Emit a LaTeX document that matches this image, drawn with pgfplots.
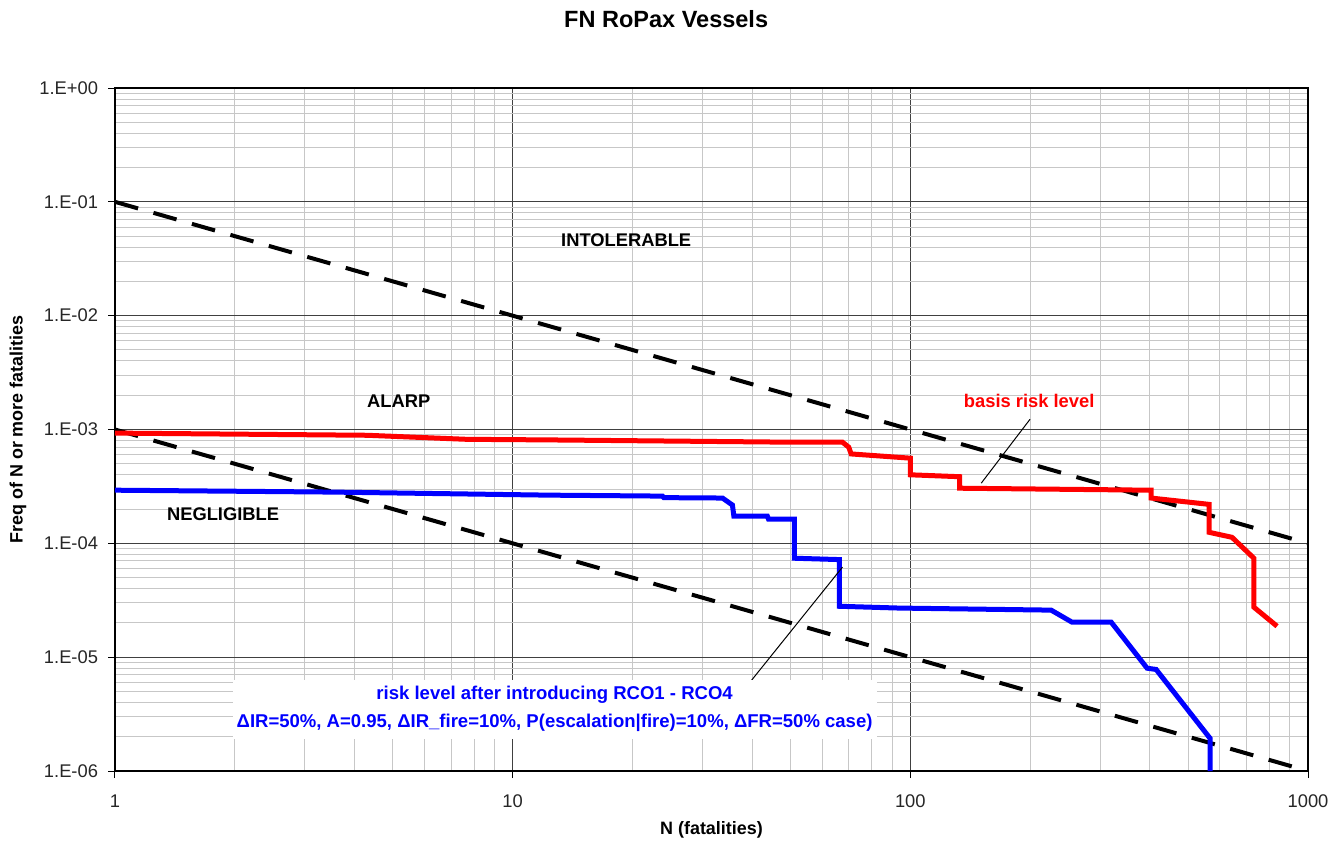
\documentclass[border=0pt]{standalone}
\usepackage{fontspec}
\setmainfont{Liberation Sans}
\usepackage{pgfplots}
\pgfplotsset{compat=1.18}

\begin{document}
\begin{tikzpicture}
\path[use as bounding box] (-57.5bp,-37bp) rectangle (608.5bp,385.5bp);
\begin{axis}[
  xmode=log, ymode=log,
  scale only axis,
  width=596.5bp, height=341.5bp,
  xmin=1, xmax=1000, ymin=1e-6, ymax=1,
  xtick={1,10,100,1000}, xticklabels={1,10,100,1000},
  ytick={1e-6,1e-5,1e-4,1e-3,1e-2,1e-1,1},
  yticklabels={1.E-06,1.E-05,1.E-04,1.E-03,1.E-02,1.E-01,1.E+00},
  tick pos=left, tick align=outside,
  major tick length=3.5bp, minor tick length=0pt,
  grid=both,
  major grid style={black!75, line width=0.5bp},
  minor grid style={black!22, line width=0.5bp},
  axis line style={black, line width=0.6bp},
  tick style={black, line width=0.5bp},
  ticklabel style={font=\fontsize{9.2}{11}\selectfont, text=black!85},
  xticklabel style={yshift=-5bp},
  yticklabel style={xshift=-1.5bp},
  title={FN RoPax Vessels},
  title style={font=\fontsize{11.8}{14}\selectfont\bfseries, at={(axis description cs:0.462,1.0835)}, anchor=center},
  xlabel={N (fatalities)},
  xlabel style={font=\fontsize{9}{11}\selectfont\bfseries, at={(axis description cs:0.5,-0.0864)}, anchor=center},
  ylabel={Freq of N or more fatalities},
  ylabel style={font=\fontsize{9}{11}\selectfont\bfseries, at={(axis description cs:-0.0813,0.5)}, anchor=center},
  clip=true,
]
% criteria lines
\addplot[black, line width=2bp, dash pattern=on 12bp off 8bp] coordinates {(1,0.1) (1000,1e-4)};
\addplot[black, line width=2bp, dash pattern=on 12bp off 8bp] coordinates {(1,1e-3) (1000,1e-6)};
% basis risk level
\addplot[red, line width=2.5bp] coordinates {
(1,9.3e-4) (4.3,8.9e-4) (7.66,8.2e-4) (12.4,8.1e-4) (47.7,7.75e-4) (67.5,7.75e-4)
(70,7.0e-4) (71,6.1e-4) (100,5.6e-4) (100,4.0e-4) (133,3.85e-4) (133,3.05e-4)
(403,2.93e-4) (403,2.5e-4) (564,2.2e-4) (564,1.25e-4) (644,1.13e-4) (731,7.4e-5)
(731,2.75e-5) (836,1.87e-5)};
% after RCO1 - RCO4
\addplot[blue, line width=2.5bp] coordinates {
(1,2.93e-4) (3.53,2.82e-4) (12.4,2.65e-4) (23.8,2.6e-4) (24,2.52e-4) (33.7,2.5e-4)
(35.7,2.17e-4) (36,1.73e-4) (43.7,1.73e-4) (44,1.63e-4) (51.1,1.63e-4) (51.1,7.4e-5)
(66.3,7.2e-5) (66.3,2.8e-5) (93.8,2.7e-5) (226,2.59e-5) (255,2.03e-5) (320,2.03e-5)
(394,8.0e-6) (415,7.8e-6) (567,1.94e-6) (567,1e-6)};
% leader lines
\draw[black, line width=0.5bp] (axis cs:200,1.23e-3) -- (axis cs:150.8,3.38e-4);
\draw[black, line width=0.5bp] (axis cs:39.9,6.28e-6) -- (axis cs:67.5,6.18e-5);
% region labels
\node[font=\fontsize{9.2}{11}\selectfont\bfseries] at (axis cs:19.3,0.046) {INTOLERABLE};
\node[font=\fontsize{9.2}{11}\selectfont\bfseries] at (axis cs:5.17,1.78e-3) {ALARP};
\node[font=\fontsize{9.2}{11}\selectfont\bfseries] at (axis cs:1.87,1.8e-4) {NEGLIGIBLE};
\node[font=\fontsize{9.2}{11}\selectfont\bfseries, text=red] at (axis cs:199,1.8e-3) {basis risk level};
\node[fill=white, align=center, inner xsep=2bp, inner ysep=3.5bp, text=blue,
      font=\fontsize{9.3}{14}\selectfont\bfseries] at (axis cs:12.75,3.49e-6)
  {risk level after introducing RCO1 - RCO4\\ΔIR=50\%, A=0.95, ΔIR\_fire=10\%, P(escalation|fire)=10\%, ΔFR=50\% case)};
\end{axis}
\end{tikzpicture}
\end{document}
